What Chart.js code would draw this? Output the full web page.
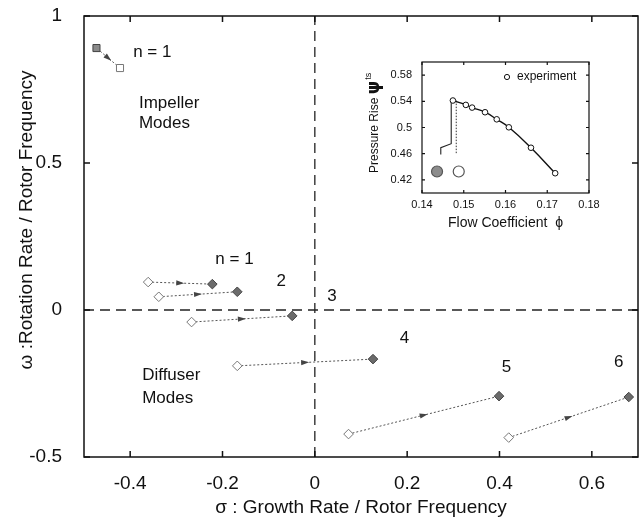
<!DOCTYPE html>
<html>
<head>
<meta charset="utf-8">
<script src="https://cdn.jsdelivr.net/npm/chart.js@4.4.1/dist/chart.umd.min.js"></script>
<style>
    html, body { margin: 0; padding: 0; background: #fff; }
    #wrap { position: relative; width: 644px; height: 519px; }
    #mainChart { position: absolute; left: 0; top: 0; }
    #insetChart { position: absolute; left: 360px; top: 50px; }
</style>
</head>
<body>
<div id="wrap">
    <canvas id="mainChart" width="644" height="519" style="width:644px;height:519px"></canvas>
    <canvas id="insetChart" width="240" height="185" style="width:240px;height:185px"></canvas>
</div>
<script>
// Main plot: each mode goes from one marker to the other (arrow shows direction)
var modeKind = ["impeller", "diffuser", "diffuser", "diffuser", "diffuser", "diffuser", "diffuser"];
var openSigma = [-0.422, -0.361, -0.338, -0.267, -0.168, 0.073, 0.420];
var openOmega = [0.823, 0.095, 0.045, -0.041, -0.190, -0.422, -0.434];
var filledSigma = [-0.473, -0.222, -0.168, -0.049, 0.126, 0.399, 0.680];
var filledOmega = [0.891, 0.088, 0.062, -0.020, -0.167, -0.293, -0.296];

var sigmaTicks = [-0.4, -0.2, 0, 0.2, 0.4, 0.6];
var omegaTicks = [-0.5, 0, 0.5, 1];

// text notes, placed in data coordinates
var noteText = ["n = 1", "Impeller", "Modes", "n = 1", "2", "3", "4", "5", "6", "Diffuser", "Modes"];
var noteSigma = [-0.352, -0.381, -0.381, -0.174, -0.073, 0.037, 0.194, 0.415, 0.658, -0.374, -0.374];
var noteOmega = [0.878, 0.704, 0.636, 0.173, 0.099, 0.048, -0.095, -0.194, -0.177, -0.221, -0.299];
var noteAlign = ["center", "left", "left", "center", "center", "center", "center", "center", "center", "left", "left"];

// Inset: pressure rise characteristic
var flowCoeff = [0.1474, 0.1505, 0.1520, 0.1551, 0.1579, 0.1608, 0.1661, 0.1719];
var pressureRise = [0.5412, 0.5345, 0.5304, 0.5233, 0.5125, 0.5003, 0.4691, 0.4302];
var solidMarkX = [0.1470, 0.1470, 0.1445, 0.1445];
var solidMarkY = [0.5427, 0.4752, 0.4691, 0.4589];
var dottedMarkX = [0.1482, 0.1482];
var dottedMarkY = [0.5410, 0.4589];
var stateFlow = [0.1436, 0.1488];
var statePressure = [0.4328, 0.4328];
var flowTicks = [0.14, 0.15, 0.16, 0.17, 0.18];
var pressureTicks = [0.42, 0.46, 0.5, 0.54, 0.58];

var FONT = "'Liberation Sans', Arial, sans-serif";

function pts(xs, ys) {
    return xs.map(function (x, i) { return { x: x, y: ys[i] }; });
}

// box frame with inward tick marks
var frameTicks = {
    id: "frameTicks",
    afterDraw: function (chart, args, opts) {
        var ctx = chart.ctx, a = chart.chartArea;
        var xs = chart.scales.x, ys = chart.scales.y;
        ctx.save();
        ctx.strokeStyle = "#111";
        ctx.lineWidth = opts.width;
        ctx.strokeRect(a.left, a.top, a.right - a.left, a.bottom - a.top);
        ctx.beginPath();
        xs.ticks.forEach(function (t) {
            var px = xs.getPixelForValue(t.value);
            ctx.moveTo(px, a.bottom); ctx.lineTo(px, a.bottom - opts.len);
            ctx.moveTo(px, a.top); ctx.lineTo(px, a.top + opts.len);
        });
        ys.ticks.forEach(function (t) {
            var py = ys.getPixelForValue(t.value);
            ctx.moveTo(a.left, py); ctx.lineTo(a.left + opts.len, py);
            ctx.moveTo(a.right, py); ctx.lineTo(a.right - opts.len, py);
        });
        ctx.stroke();
        ctx.restore();
    }
};

// dashed lines through sigma = 0 and omega = 0
var zeroLines = {
    id: "zeroLines",
    beforeDatasetsDraw: function (chart) {
        var ctx = chart.ctx, a = chart.chartArea;
        var x0 = chart.scales.x.getPixelForValue(0);
        var y0 = chart.scales.y.getPixelForValue(0);
        ctx.save();
        ctx.strokeStyle = "#222";
        ctx.lineWidth = 1.3;
        ctx.setLineDash([10, 6]);
        ctx.beginPath();
        ctx.moveTo(a.left, y0); ctx.lineTo(a.right, y0);
        ctx.moveTo(x0, a.bottom); ctx.lineTo(x0, a.top);
        ctx.stroke();
        ctx.restore();
    }
};

// arrow heads half way along each mode path
var modeArrows = {
    id: "modeArrows",
    afterDatasetsDraw: function (chart) {
        var ctx = chart.ctx;
        ctx.save();
        ctx.fillStyle = "#444";
        modeKind.forEach(function (kind, i) {
            var meta = chart.getDatasetMeta(i);
            var from = kind === "impeller" ? meta.data[1] : meta.data[0];
            var to = kind === "impeller" ? meta.data[0] : meta.data[1];
            var mx = (from.x + to.x) / 2, my = (from.y + to.y) / 2;
            var ang = Math.atan2(to.y - from.y, to.x - from.x);
            ctx.save();
            ctx.translate(mx, my);
            ctx.rotate(ang);
            ctx.beginPath();
            ctx.moveTo(4, 0);
            ctx.lineTo(-4, -2.6);
            ctx.lineTo(-4, 2.6);
            ctx.closePath();
            ctx.fill();
            ctx.restore();
        });
        ctx.restore();
    }
};

// annotations and the rotated y axis title
var notes = {
    id: "notes",
    afterDraw: function (chart) {
        var ctx = chart.ctx;
        ctx.save();
        ctx.fillStyle = "#111";
        ctx.font = "17px " + FONT;
        ctx.textBaseline = "middle";
        noteText.forEach(function (txt, i) {
            ctx.textAlign = noteAlign[i];
            ctx.fillText(txt,
                chart.scales.x.getPixelForValue(noteSigma[i]),
                chart.scales.y.getPixelForValue(noteOmega[i]));
        });
        ctx.translate(27, 220);
        ctx.rotate(-Math.PI / 2);
        ctx.textAlign = "center";
        ctx.font = "19px " + FONT;
        ctx.fillText("ω :Rotation Rate / Rotor Frequency", 0, 0);
        ctx.restore();
    }
};

var mainDatasets = modeKind.map(function (kind, i) {
    var isImp = kind === "impeller";
    return {
        data: [{ x: openSigma[i], y: openOmega[i] }, { x: filledSigma[i], y: filledOmega[i] }],
        showLine: true,
        borderColor: "#555",
        borderWidth: 1,
        borderDash: [2, 2],
        pointStyle: isImp ? "rect" : "rectRot",
        pointRadius: isImp ? 5 : 4.8,
        pointBackgroundColor: ["#fff", isImp ? "#8a8a8a" : "#6b6b6b"],
        pointBorderColor: ["#777", "#444"],
        pointBorderWidth: 1
    };
});

new Chart(document.getElementById("mainChart"), {
    type: "scatter",
    data: { datasets: mainDatasets },
    options: {
        responsive: false,
        animation: false,
        layout: { padding: { top: 16, right: 2, left: 0, bottom: 0 } },
        plugins: {
            legend: { display: false },
            tooltip: { enabled: false },
            frameTicks: { width: 1.5, len: 6 }
        },
        scales: {
            x: {
                type: "linear", min: -0.5, max: 0.7,
                afterBuildTicks: function (s) { s.ticks = sigmaTicks.map(function (v) { return { value: v }; }); },
                afterFit: function (s) { s.height = 62; },
                grid: { display: false, drawTicks: true, tickLength: 15 },
                border: { display: false },
                ticks: { color: "#111", font: { family: FONT, size: 19 }, padding: 0,
                    callback: function (v) { return String(v); } },
                title: { display: true, text: "σ : Growth Rate / Rotor Frequency", color: "#111",
                    font: { family: FONT, size: 19 }, padding: { top: 0, bottom: 0 } }
            },
            y: {
                type: "linear", min: -0.5, max: 1,
                afterBuildTicks: function (s) { s.ticks = omegaTicks.map(function (v) { return { value: v }; }); },
                afterFit: function (s) { s.width = 84; },
                grid: { display: false, drawTicks: true, tickLength: 22 },
                border: { display: false },
                ticks: { color: "#111", font: { family: FONT, size: 19 }, padding: 0,
                    callback: function (v) { return String(v); } },
                title: { display: false }
            }
        }
    },
    plugins: [zeroLines, modeArrows, frameTicks, notes]
});

// inset: legend entry and rotated y title with psi^ts
var insetText = {
    id: "insetText",
    afterDraw: function (chart) {
        var ctx = chart.ctx;
        ctx.save();
        ctx.fillStyle = "#111";
        ctx.strokeStyle = "#111";
        ctx.lineWidth = 1;
        ctx.beginPath();
        ctx.arc(147, 27, 2.6, 0, Math.PI * 2);
        ctx.stroke();
        ctx.font = "12px " + FONT;
        ctx.textAlign = "left";
        ctx.textBaseline = "middle";
        ctx.fillText("experiment", 157, 27);

        ctx.translate(15, 123);
        ctx.rotate(-Math.PI / 2);
        ctx.textBaseline = "middle";
        ctx.font = "12px " + FONT;
        var t1 = "Pressure Rise ";
        ctx.fillText(t1, 0, 0);
        var w1 = ctx.measureText(t1).width;
        ctx.font = "bold 17px 'DejaVu Sans', " + FONT;
        ctx.fillText("ψ", w1, 0);
        var w2 = ctx.measureText("ψ").width;
        ctx.font = "9px " + FONT;
        ctx.fillText("ts", w1 + w2 + 1, -6);
        ctx.restore();
    }
};

new Chart(document.getElementById("insetChart"), {
    type: "scatter",
    data: {
        datasets: [
            {
                data: pts(flowCoeff, pressureRise),
                pointRadius: 2.8, pointBackgroundColor: "#fff",
                pointBorderColor: "#111", pointBorderWidth: 1
            },
            {
                data: pts(stateFlow, statePressure),
                pointRadius: 5.5,
                pointBackgroundColor: ["#8c8c8c", "#fff"],
                pointBorderColor: ["#555", "#555"], pointBorderWidth: 1.2
            },
            {
                data: pts(flowCoeff, pressureRise),
                showLine: true, tension: 0.45,
                pointRadius: 0, borderColor: "#111", borderWidth: 1.4
            },
            {
                data: pts(solidMarkX, solidMarkY),
                showLine: true, pointRadius: 0, borderColor: "#222", borderWidth: 1.1
            },
            {
                data: pts(dottedMarkX, dottedMarkY),
                showLine: true, pointRadius: 0, borderColor: "#333", borderWidth: 1,
                borderDash: [1.5, 1.5]
            }
        ]
    },
    options: {
        responsive: false,
        animation: false,
        layout: { padding: { top: 12, right: 11, left: 0, bottom: 0 } },
        plugins: {
            legend: { display: false },
            tooltip: { enabled: false },
            frameTicks: { width: 1.2, len: 3 }
        },
        scales: {
            x: {
                type: "linear", min: 0.14, max: 0.18,
                afterBuildTicks: function (s) { s.ticks = flowTicks.map(function (v) { return { value: v }; }); },
                afterFit: function (s) { s.height = 42; },
                grid: { display: false, drawTicks: true, tickLength: 5 },
                border: { display: false },
                ticks: { color: "#111", font: { family: FONT, size: 11 }, padding: 0,
                    callback: function (v) { return String(v); } },
                title: { display: true, text: "Flow Coefficient  ϕ", color: "#111",
                    font: { family: FONT, size: 14 }, padding: { top: 0, bottom: 3 } }
            },
            y: {
                type: "linear", min: 0.40, max: 0.60,
                afterBuildTicks: function (s) { s.ticks = pressureTicks.map(function (v) { return { value: v }; }); },
                afterFit: function (s) { s.width = 62; },
                grid: { display: false, drawTicks: true, tickLength: 10 },
                border: { display: false },
                ticks: { color: "#111", font: { family: FONT, size: 11 }, padding: 0,
                    callback: function (v) { return String(v); } }
            }
        }
    },
    plugins: [frameTicks, insetText]
});
</script>
</body>
</html>
